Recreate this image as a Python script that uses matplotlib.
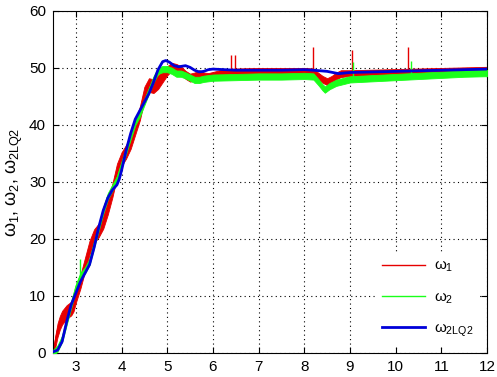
import matplotlib
matplotlib.use("Agg")
import matplotlib.pyplot as plt
import numpy as np
from matplotlib.lines import Line2D

# ---- data ----
t_blue = [2.5, 2.6, 2.7, 2.8, 2.9, 3.0, 3.1, 3.2, 3.3, 3.4, 3.5, 3.6, 3.7, 3.8, 3.9, 3.95,
          4.0, 4.1, 4.2, 4.3, 4.4, 4.5, 4.6, 4.7, 4.8, 4.9, 4.97, 5.05, 5.15, 5.25, 5.4,
          5.5, 5.6, 5.7, 5.8, 5.9, 6.0, 6.5, 7.0, 7.5, 8.0, 8.2, 8.5, 8.75, 9.0, 9.5,
          10.0, 10.5, 11.0, 11.5, 12.0]
w_blue = [0.2, 0.5, 2.0, 5.5, 8.5, 10.5, 12.5, 14.0, 15.5, 18.5, 22.0, 25.0, 27.2, 28.6,
          29.5, 30.5, 32.0, 35.5, 38.5, 41.0, 42.5, 44.0, 45.5, 47.5, 49.7, 51.1, 51.3,
          51.0, 50.4, 50.2, 50.4, 50.1, 49.6, 49.3, 49.4, 49.7, 49.8, 49.6, 49.6, 49.6,
          49.7, 49.6, 49.4, 49.0, 49.2, 49.3, 49.4, 49.5, 49.6, 49.7, 49.8]

t_red = [2.5, 2.55, 2.6, 2.65, 2.7, 2.8, 2.9, 2.95, 3.0, 3.1, 3.2, 3.3, 3.4, 3.5, 3.6,
         3.7, 3.8, 3.9, 4.0, 4.1, 4.2, 4.3, 4.4, 4.5, 4.6, 4.7, 4.8, 4.9, 5.0, 5.1, 5.2,
         5.3, 5.4, 5.5, 5.6, 5.7, 5.8, 5.9, 6.0, 6.2, 6.5, 7.0, 7.5, 8.0, 8.2, 8.3, 8.4,
         8.5, 8.6, 8.7, 8.8, 9.0, 9.5, 10.0, 10.5, 11.0, 11.5, 12.0]
w_red = [0.0, 2.0, 4.0, 5.3, 6.2, 7.2, 7.8, 8.5, 10.0, 12.5, 15.5, 18.5, 20.5, 21.5, 23.0,
         25.5, 28.5, 32.0, 34.0, 35.3, 37.0, 39.5, 42.0, 45.5, 47.0, 46.8, 47.5, 48.5,
         49.5, 50.2, 50.0, 49.6, 48.8, 48.3, 48.5, 49.0, 48.6, 48.5, 48.7, 49.1, 49.3,
         49.4, 49.4, 49.4, 49.3, 48.6, 48.0, 47.6, 48.0, 48.6, 49.0, 49.1, 49.2, 49.3,
         49.4, 49.5, 49.6, 49.7]
band_red = [0.3, 1.0, 1.2, 1.2, 1.2, 1.2, 1.2, 1.2, 1.2, 1.2, 1.2, 1.2, 1.2, 1.2, 1.2,
            1.2, 1.2, 1.2, 1.2, 1.2, 1.2, 1.2, 1.2, 1.2, 1.2, 1.2, 1.2, 1.0, 0.8, 0.7, 0.7,
            0.7, 0.7, 0.7, 0.7, 0.6, 0.6, 0.6, 0.6, 0.6, 0.6, 0.6, 0.6, 0.6, 0.6, 0.6, 0.6,
            0.6, 0.6, 0.6, 0.6, 0.5, 0.5, 0.5, 0.5, 0.5, 0.5, 0.5]

t_green = [2.5, 2.6, 2.7, 2.8, 2.9, 3.0, 3.1, 3.2, 3.3, 3.4, 3.5, 3.6, 3.7, 3.8, 3.9,
           4.0, 4.1, 4.2, 4.3, 4.4, 4.5, 4.6, 4.7, 4.8, 4.9, 5.0, 5.1, 5.2, 5.3, 5.4, 5.5,
           5.6, 5.7, 5.8, 6.0, 6.5, 7.0, 7.5, 8.0, 8.2, 8.3, 8.4, 8.45, 8.55, 8.7, 8.9,
           9.0, 9.5, 10.0, 10.5, 11.0, 11.5, 12.0]
w_green = [0.0, 0.8, 2.5, 5.5, 8.5, 11.5, 13.5, 14.5, 16.0, 19.0, 22.0, 25.0, 27.5, 29.0,
           30.5, 33.0, 35.5, 38.0, 40.5, 42.0, 44.0, 46.0, 48.0, 49.5, 49.8, 49.8, 49.5,
           49.0, 49.0, 48.7, 48.3, 47.9, 47.9, 48.1, 48.3, 48.4, 48.5, 48.5, 48.6, 48.5,
           47.6, 46.6, 46.2, 46.8, 47.4, 47.8, 48.0, 48.2, 48.4, 48.6, 48.8, 49.0, 49.1]
band_green = 0.55

spike_red_t = [6.40, 6.49, 8.19, 9.05, 10.27]
spike_red_top = [52.2, 52.2, 53.7, 53.2, 53.6]
spike_red_base = [49.4, 49.4, 49.5, 49.2, 49.5]
spike_green_t = [3.10, 9.06, 10.33]
spike_green_top = [16.5, 51.0, 51.3]
spike_green_base = [13.5, 48.0, 48.6]

xticks = [3, 4, 5, 6, 7, 8, 9, 10, 11, 12]
yticks = [0, 10, 20, 30, 40, 50, 60]

RED = (0.9, 0.0, 0.0)
GREEN = (0.1, 1.0, 0.1)
BLUE = (0.0, 0.0, 0.85)

plt.rcParams['font.family'] = ['Liberation Sans', 'DejaVu Sans']
plt.rcParams['mathtext.fontset'] = 'custom'
plt.rcParams['mathtext.rm'] = 'Liberation Sans'
plt.rcParams['mathtext.it'] = 'Liberation Sans'
fig = plt.figure(figsize=(4.97, 3.77), dpi=100)
ax = fig.add_axes([0.1066, 0.0637, 0.8734, 0.9073])

tr = np.array(t_red); wr = np.array(w_red); br = np.array(band_red)
ax.fill_between(tr, wr - br, wr + br, color=RED, lw=0.6, zorder=2)
ax.plot(tr, wr, color=RED, lw=1, zorder=2)
ax.vlines(spike_red_t, spike_red_base, spike_red_top, color=RED, lw=1, zorder=2)

tg = np.array(t_green); wg = np.array(w_green)
ax.fill_between(tg, wg - band_green, wg + band_green, color=GREEN, lw=0.6, zorder=3)
ax.plot(tg, wg, color=GREEN, lw=1, zorder=3)
ax.vlines(spike_green_t, spike_green_base, spike_green_top, color=GREEN, lw=1, zorder=3)

ax.plot(t_blue, w_blue, color=BLUE, lw=2, zorder=4)

ax.set_xlim(2.5, 12)
ax.set_ylim(0, 60)
ax.set_xticks(xticks)
ax.set_yticks(yticks)
ax.grid(True, color='black', linestyle=(0, (1, 3)), linewidth=0.8)
ax.tick_params(direction='in', top=True, right=True, labelsize=11, length=4, pad=5)
ax.set_ylabel(r'$\omega_1$, $\omega_2$, $\omega_{2LQ2}$', fontsize=13, labelpad=3)

handles = [Line2D([], [], color=RED, lw=1),
           Line2D([], [], color=GREEN, lw=1),
           Line2D([], [], color=BLUE, lw=2)]
labels = [r'$\omega_1$', r'$\omega_2$', r'$\omega_{2LQ2}$']
leg = ax.legend(handles, labels, loc='lower right', frameon=True, fontsize=11,
                handlelength=2.8, handletextpad=0.6, labelspacing=1.05,
                bbox_to_anchor=(1.0, 0.0), fancybox=False, framealpha=1.0,
                facecolor='white', edgecolor='none')
leg.set_zorder(5)

fig.savefig('out.png', dpi=100)
